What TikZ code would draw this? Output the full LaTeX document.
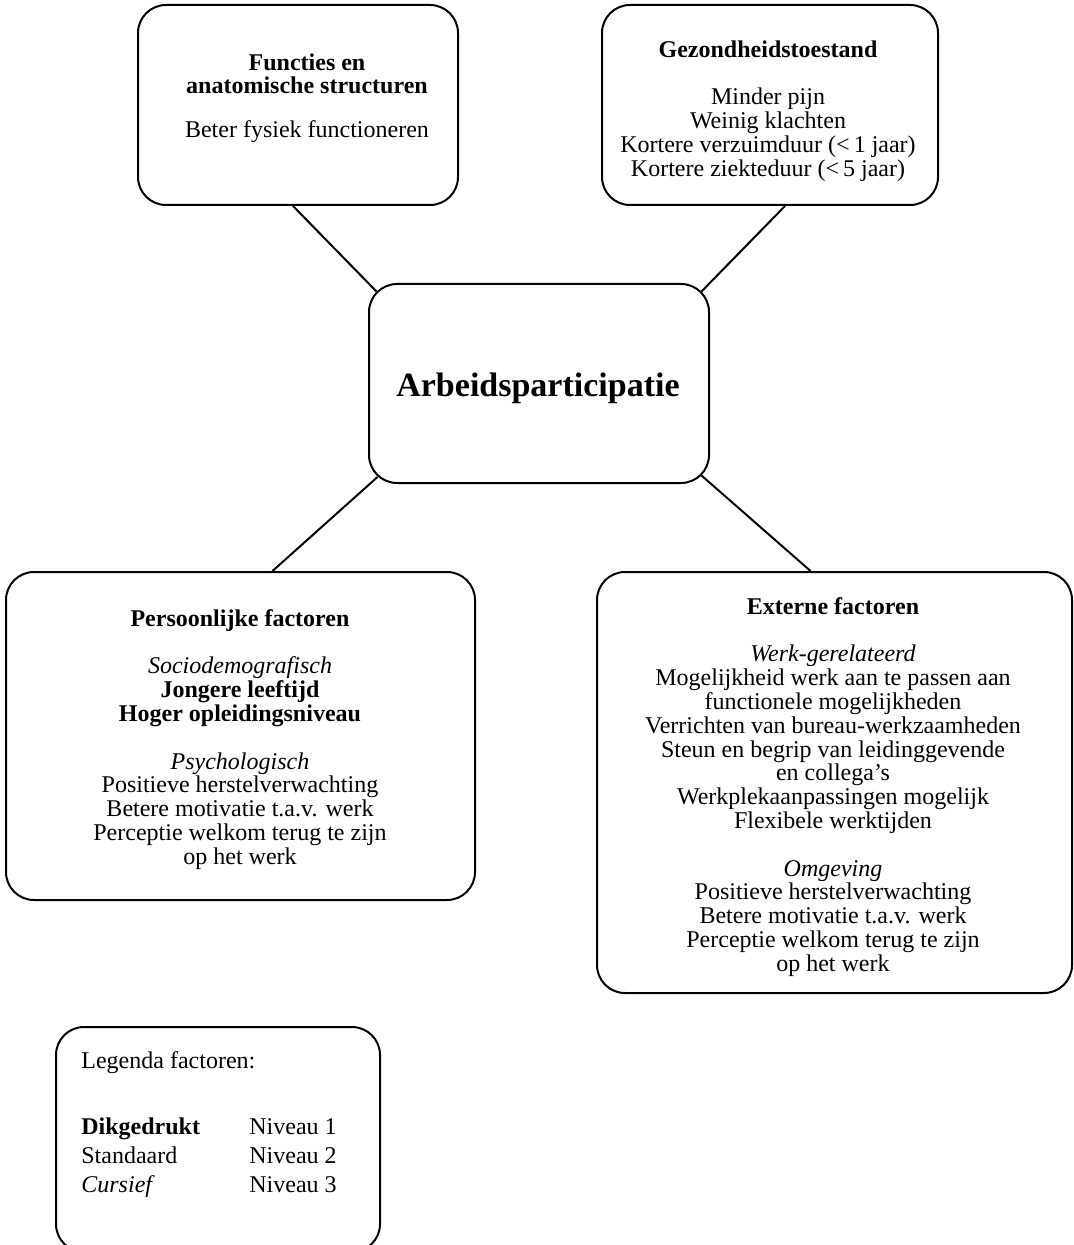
\documentclass[tikz,border=0pt]{standalone}
\usepackage{fontspec}
\setmainfont{Liberation Serif}
\usetikzlibrary{calc}
\begin{document}
\begin{tikzpicture}[x=0.5pt,y=-0.5pt,
  box/.style={draw, line width=1pt, rounded corners=14pt, inner sep=0pt},
  txt/.style={align=center, inner sep=0pt, font=\fontsize{12}{11.9}\selectfont},
  ltxt/.style={anchor=base west, inner sep=0pt, font=\fontsize{12}{11.9}\selectfont},
  conn/.style={line width=1pt}]
\useasboundingbox (0,0) rectangle (1073,1245);
% boxes
\node[box, minimum width=160pt, minimum height=100pt] (b1) at (298,105) {};
\node[box, minimum width=168pt, minimum height=100pt] (b2) at (770,105) {};
\node[box, minimum width=170pt, minimum height=99.5pt] (c) at (539,383.5) {};
\node[box, minimum width=234.5pt, minimum height=164pt] (p) at (240.5,736) {};
\node[box, minimum width=237.5pt, minimum height=210.5pt] (e) at (834.5,782.5) {};
\node[box, minimum width=162pt, minimum height=112.5pt] (lg) at (218,1139.5) {};
% texts
\node[txt, anchor=north] (t1) at (307,53) {\textbf{Functies en}\\\textbf{anatomische structuren}\\[10pt]Beter fysiek functioneren};
\node[txt, anchor=north] (t2) at (768,40) {\textbf{Gezondheidstoestand}\\[11.9pt]Minder pijn\\Weinig klachten\\Kortere verzuimduur (<\,1 jaar)\\Kortere ziekteduur (<\,5 jaar)};
\node[anchor=base, inner sep=0pt, font=\fontsize{17}{20}\selectfont\bfseries] (tc) at (538,396) {Arbeidsparticipatie};
\node[txt, anchor=north] (tp) at (240,609) {\textbf{Persoonlijke factoren}\\[11.9pt]\textit{Sociodemografisch}\\\textbf{Jongere leeftijd}\\\textbf{Hoger opleidingsniveau}\\[11.9pt]\textit{Psychologisch}\\Positieve herstelverwachting\\Betere motivatie t.a.v. werk\\Perceptie welkom terug te zijn\\op het werk};
\node[txt, anchor=north] (te) at (833,597) {\textbf{Externe factoren}\\[11.9pt]\textit{Werk-gerelateerd}\\Mogelijkheid werk aan te passen aan\\functionele mogelijkheden\\Verrichten van bureau-werkzaamheden\\Steun en begrip van leidinggevende\\en collega’s\\Werkplekaanpassingen mogelijk\\Flexibele werktijden\\[11.9pt]\textit{Omgeving}\\Positieve herstelverwachting\\Betere motivatie t.a.v. werk\\Perceptie welkom terug te zijn\\op het werk};
% legend
\node[ltxt] (lt) at (81,1068) {Legenda factoren:};
\node[ltxt] (l1) at (81,1134) {\textbf{Dikgedrukt}};
\node[ltxt] (n1) at (249,1134) {Niveau 1};
\node[ltxt] (l2) at (81,1163) {Standaard};
\node[ltxt] (n2) at (249,1163) {Niveau 2};
\node[ltxt] (l3) at (81,1192) {\textit{Cursief}};
\node[ltxt] (n3) at (249,1192) {Niveau 3};
% connectors
\draw[conn] ($(b1.south)+(-5,0)$) -- ($(c.north west)+(8.5,8.5)$);
\draw[conn] ($(b2.south)+(15,0)$) -- ($(c.north east)+(-8.5,8.5)$);
\draw[conn] ($(c.south west)+(9.5,-7)$) -- ($(p.north)+(32,0)$);
\draw[conn] ($(c.south east)+(-8.5,-8.5)$) -- ($(e.north)+(-24,0)$);
\end{tikzpicture}
\end{document}
